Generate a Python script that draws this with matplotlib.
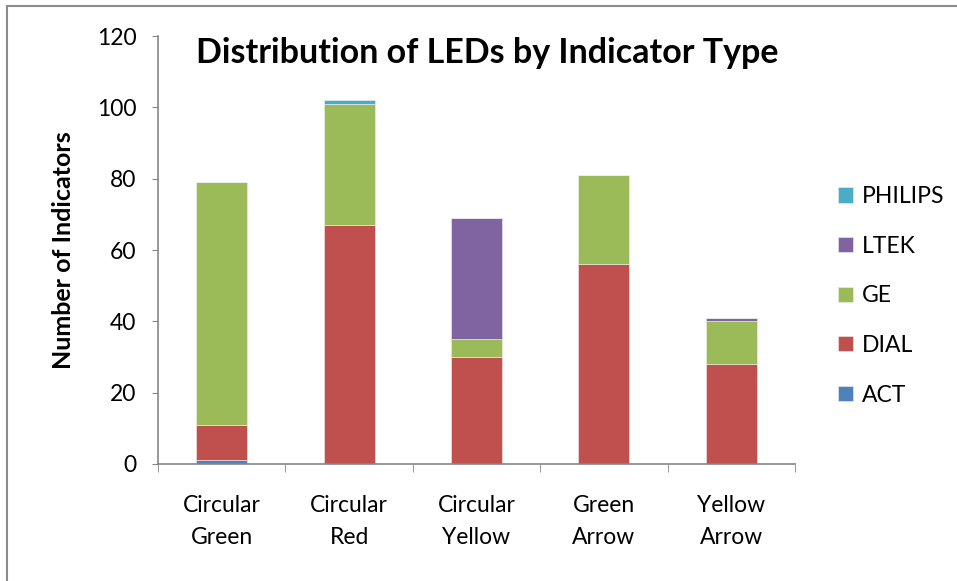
import matplotlib.pyplot as plt
import numpy as np
from matplotlib.lines import Line2D

plt.rcParams['font.family'] = ['Lato', 'DejaVu Sans']

# data
categories = ["Circular\nGreen", "Circular\nRed", "Circular\nYellow", "Green\nArrow", "Yellow\nArrow"]
act = [1, 0, 0, 0, 0]
dial = [10, 67, 30, 56, 28]
ge = [68, 34, 5, 25, 12]
ltek = [0, 0, 34, 0, 1]
philips = [0, 1, 0, 0, 0]

series = [("ACT", act, "#4F81BD"),
          ("DIAL", dial, "#C0504D"),
          ("GE", ge, "#9BBB59"),
          ("LTEK", ltek, "#8064A2"),
          ("PHILIPS", philips, "#4BACC6")]

fig = plt.figure(figsize=(9.57, 5.81), dpi=100)
ax = fig.add_axes([0.1651, 0.2014, 0.6656, 0.7366])

x = np.arange(len(categories))
bottom = np.zeros(len(categories))
handles = []
for name, vals, col in series:
    vals = np.array(vals, dtype=float)
    b = ax.bar(x, vals, 0.4, bottom=bottom, color=col, edgecolor="#f0f0f0",
               linewidth=0.4, label=name)
    handles.append(b)
    bottom += vals

ax.set_xlim(-0.5, len(categories) - 0.5)
ax.set_ylim(0, 120)
ax.set_yticks(range(0, 121, 20))
ax.tick_params(axis='y', labelsize=16.5, length=4.5, color="#868686", direction='out', pad=11)

ax.set_xticks(x)
ax.set_xticklabels(categories, fontsize=16.5, linespacing=1.7)
ax.tick_params(axis='x', length=0, pad=22)
ax.set_xticks(np.arange(-0.5, len(categories)), minor=True)
ax.tick_params(axis='x', which='minor', length=6, color="#868686", direction='out')

for s in ["top", "right"]:
    ax.spines[s].set_visible(False)
for s in ["left", "bottom"]:
    ax.spines[s].set_color("#868686")
    ax.spines[s].set_linewidth(1.2)

ax.set_ylabel("Number of Indicators", fontsize=18, fontweight='bold', labelpad=16)
ax.text(0.517, 0.96, "Distribution of LEDs by Indicator Type", transform=ax.transAxes,
        ha='center', va='center', fontsize=24.5, fontweight='bold')

leg = fig.legend(handles[::-1], [s[0] for s in series][::-1], loc='center left',
                 bbox_to_anchor=(0.866, 0.491), frameon=False, fontsize=16.5,
                 handlelength=0.65, handleheight=0.65, handletextpad=0.4,
                 labelspacing=1.25, borderaxespad=0)

# chart border
fig.add_artist(Line2D([0.0075, 0.0075], [0, 0.99], transform=fig.transFigure,
                      color="#8c8c8c", linewidth=1.5))
fig.add_artist(Line2D([0.0075, 1], [0.99, 0.99], transform=fig.transFigure,
                      color="#8c8c8c", linewidth=1.5))

fig.savefig("out.png", dpi=100)
